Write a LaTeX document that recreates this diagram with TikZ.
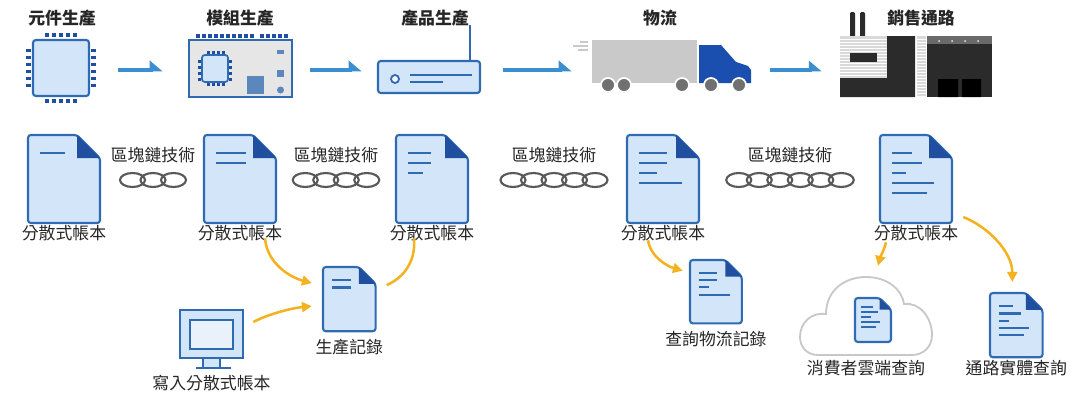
\documentclass[tikz,border=0pt]{standalone}
\usepackage{fontspec}
\usepackage{tikz}
\usetikzlibrary{arrows.meta,calc,positioning}
\newfontfamily\cjk{Noto Sans CJK TC}

\definecolor{docblue}{HTML}{2F6BB3}
\definecolor{docfill}{HTML}{D3E5F8}
\definecolor{docfold}{HTML}{1F4F9E}
\definecolor{flowblue}{HTML}{3B8FD0}
\definecolor{gold}{HTML}{F4B120}
\definecolor{linkgrey}{HTML}{595959}
\definecolor{ink}{HTML}{262626}
\definecolor{boardgrey}{HTML}{E6E6E6}
\definecolor{padblue}{HTML}{5B87BD}
\definecolor{truckgrey}{HTML}{C9C9C9}
\definecolor{truckblue}{HTML}{1A4FB0}
\definecolor{wheelgrey}{HTML}{707070}
\definecolor{darkwall}{HTML}{2B2B2B}
\definecolor{lightwall}{HTML}{D9D9D9}
\definecolor{roofgrey}{HTML}{6A6A6A}
\definecolor{cloudgrey}{HTML}{C8C8C8}

\tikzset{
  stage/.style={font=\cjk\bfseries\fontsize{12}{14}\selectfont, text=ink, inner sep=1pt},
  tag/.style={font=\cjk\fontsize{12}{14}\selectfont, text=ink, inner sep=1pt},
  spot/.style 2 args={minimum width=#1*0.025cm, minimum height=#2*0.025cm, inner sep=0pt},
  docspot/.style={spot={72}{88}},
  docbody/.style={fill=docfill, draw=docblue, line width=1.5pt, rounded corners=2pt},
  docline/.style={draw=docblue, line width=1.5pt},
  pin/.style={fill=docfold},
  link/.style={draw=linkgrey, line width=1.5pt},
  flow/.style={draw=flowblue, line width=2.4pt, -{Triangle[harpoon,length=8pt,width=13pt]}},
  feedline/.style={draw=gold, line width=1.8pt},
  feed/.style={feedline, -{Triangle[length=7pt,width=7pt]}},
}

% ledger icon: name, top-left corner, scale, lengths of the text lines
\newcommand{\ledger}[4]{%
  \begin{scope}[shift={(#2)}, scale=#3]
    \draw[docbody] (0,0) -- (49,0) -- (72,23) -- (72,88) -- (0,88) -- cycle;
    \fill[docfold] (49,0) -- (72,23) -- (49,23) -- cycle;
    \foreach \len [count=\i] in {#4}
      \draw[docline] (12,8+10*\i) -- ++(\len,0);
    \node[docspot, transform shape] (#1) at (36,44) {};
  \end{scope}}

% row of chain links under a label
\newcommand{\linkrow}[2]{%
  \foreach \i in {1,...,#2}
    \draw[link] ($(#1)+({(\i-(#2+1)/2)*20.5},25)$) ellipse [x radius=12.5, y radius=7];}

\begin{document}
\begin{tikzpicture}[x=0.025cm, y=-0.025cm]
  \useasboundingbox[fill=white] (0,0) rectangle (1076,395);

  % top row: from parts to shop
  \node[stage] (partTxt) at (62,18) {元件生產};
  \node[stage] (boardTxt) at (240,18) {模組生產};
  \node[stage] (goodsTxt) at (435,18) {產品生產};
  \node[stage] (truckTxt) at (660,18) {物流};
  \node[stage] (shopTxt) at (921,18) {銷售通路};

  \node[spot={70}{70}] (chip) at (61,70) {};
  \node[spot={106}{70}] (board) at (240,70) {};
  \node[spot={102}{70}] (router) at (429,70) {};
  \node[spot={160}{70}] (truck) at (672,70) {};
  \node[spot={152}{70}] (store) at (916,70) {};

  % chip
  \foreach \k in {-2,...,2} {
    \fill[pin] (61+7*\k-1.75,33) rectangle ++(3.5,4);
    \fill[pin] (61+7*\k-1.75,99) rectangle ++(3.5,4);
  }
  \foreach \k in {-2.5,-1.5,...,2.5} {
    \fill[pin] (26,68+7*\k-1.5) rectangle ++(5,3);
    \fill[pin] (91,68+7*\k-1.5) rectangle ++(5,3);
  }
  \draw[docbody] (33,40) rectangle (89,96);

  % module board
  \draw[draw=docblue, fill=boardgrey, line width=1.2pt] (189,40) rectangle (292,97);
  \foreach \x in {196,202,...,250} \fill[pin] (\x,34) rectangle ++(3.5,4);
  \foreach \x in {260,266,...,284} \fill[pin] (\x,34) rectangle ++(3.5,4);
  \foreach \k in {0,...,3} {
    \fill[pin] (207+5*\k,51) rectangle ++(2.5,3);
    \fill[pin] (207+5*\k,83) rectangle ++(2.5,3);
    \fill[pin] (198,60+6*\k) rectangle ++(3,2.5);
    \fill[pin] (229,60+6*\k) rectangle ++(3,2.5);
  }
  \draw[docbody, line width=1.2pt] (202,55) rectangle (228,82);
  \fill[padblue] (247,76) rectangle (264,94);
  \fill[padblue] (277,50) rectangle (284,54);
  \fill[padblue] (277,70) rectangle (284,77);
  \fill[padblue] (280.5,90) circle [radius=3.5];

  % router
  \draw[docblue, line width=1.5pt] (470,61) -- (470,25);
  \draw[docbody] (378,61) rectangle (480,93);
  \draw[docblue, fill=white, line width=1.3pt] (395,79) circle [radius=4];
  \draw[docline] (410,75) -- (472,75);
  \draw[docline] (410,82) -- (443,82);

  % truck
  \draw[truckgrey, line width=1pt] (580,42) -- (588,42) (573,46) -- (588,46) (578,50) -- (588,50);
  \fill[truckgrey] (592,40) rectangle (697,83);
  \fill[truckblue] (699,45) -- (721,45) -- (736,62) -- (748,66) -- (751,70) -- (751,83) -- (699,83) -- cycle;
  \foreach \x in {608,624,682,711,739}
    \draw[white, fill=wheelgrey, line width=1.2pt] (\x,85) circle [radius=7];

  % shop front
  \fill[darkwall, rounded corners=1pt] (850,12) rectangle (855,38) (860,12) rectangle (865,38);
  \fill[lightwall] (840,36) rectangle (887,78);
  \fill[lightwall] (917,36) rectangle (926,97);
  \foreach \y in {39,42,...,96} \draw[white, line width=0.4pt] (917,\y) -- (926,\y);
  \foreach \y in {39,42,...,76} \draw[white, line width=0.4pt] (840,\y) -- (887,\y);
  \fill[darkwall] (887,36) -- (915,36) -- (915,97) -- (840,97) -- (840,78) -- (887,78) -- cycle;
  \fill[darkwall] (850,53) rectangle (877,62);
  \fill[darkwall] (927,36) rectangle (992,97);
  \fill[roofgrey] (927,36) rectangle (992,44);
  \foreach \x in {939,952,965,978} \fill[white!80!gray] (\x,41) circle [radius=1];
  \fill[black] (938,79) rectangle (958,97) (962,79) rectangle (981,97);

  \draw[flow] ($(chip.east)+(22,0)$) -- ($(board.west)+(-24,0)$);
  \draw[flow] ($(board.east)+(17,0)$) -- ($(router.west)+(-16,0)$);
  \draw[flow] ($(router.east)+(23,0)$) -- ($(truck.west)+(-20,0)$);
  \draw[flow] ($(truck.east)+(18,0)$) -- ($(store.west)+(-18,0)$);

  % ledgers and chains
  \ledger{ledgerA}{28,135}{1}{25}
  \ledger{ledgerB}{204,135}{1}{30,30}
  \ledger{ledgerC}{396,135}{1}{23,23,15}
  \ledger{ledgerD}{627,135}{1}{28,28,18,43}
  \ledger{ledgerE}{880,135}{1}{20,30,14,42,35}

  \node[tag, below=0pt of ledgerA] (bookA) {分散式帳本};
  \node[tag, below=0pt of ledgerB] (bookB) {分散式帳本};
  \node[tag, below=0pt of ledgerC] (bookC) {分散式帳本};
  \node[tag, below=0pt of ledgerD] (bookD) {分散式帳本};
  \node[tag, below=0pt of ledgerE] (bookE) {分散式帳本};

  \node[tag] (chainA) at (153,155) {區塊鏈技術};
  \node[tag] (chainB) at (336,155) {區塊鏈技術};
  \node[tag] (chainC) at (554,155) {區塊鏈技術};
  \node[tag] (chainD) at (790,155) {區塊鏈技術};
  \linkrow{chainA}{3}
  \linkrow{chainB}{4}
  \linkrow{chainC}{5}
  \linkrow{chainD}{6}

  % records and queries
  \ledger{record}{323,267}{0.73}{27,27}
  \node[tag, below=4pt of record] (recordTxt) {生產記錄};

  \node[spot={63}{58}] (screen) at (211.5,339) {};
  \draw[docblue, fill=docfill, line width=1.4pt] (203,358) rectangle (220,368);
  \draw[docblue, line width=1.6pt] (196,368) -- (231,368);
  \draw[docblue, fill=docfill, line width=1.4pt] (180,310) rectangle (243,358);
  \draw[docblue, fill=docfill!50, line width=1.4pt] (190,320) rectangle (233,349);
  \node[tag, below=4pt of screen] (screenTxt) {寫入分散式帳本};

  \ledger{query}{690,260}{0.72}{25,25,15,44}
  \node[tag, below=4pt of query] (queryTxt) {查詢物流記錄};

  \node[spot={132}{78}] (cloud) at (866,316) {};
  \draw[cloudgrey, fill=white, line width=1.3pt] (818,355)
    .. controls (806,355) and (800,346) .. (800,337)
    .. controls (800,322) and (812,312) .. (826,314)
    .. controls (826,290) and (845,277) .. (866,277)
    .. controls (888,277) and (902,290) .. (904,304)
    .. controls (920,302) and (932,318) .. (932,335)
    .. controls (932,348) and (922,355) .. (912,355) -- cycle;
  \ledger{cloudDoc}{855,298}{0.5}{23,33,20,37,30}
  \node[tag, below=2pt of cloud] (cloudTxt) {消費者雲端查詢};

  \ledger{shop}{990,293}{0.73}{20,30,14,42,35}
  \node[tag, below=1pt of shop] (shopQuery) {通路實體查詢};

  \draw[feed] ($(bookB.south)+(25,-4)$) .. controls +(2,25) and +(-22,-6) .. ($(record.west)+(-11,-16)$);
  \draw[feed] ($(screen.east)+(10,-17)$) .. controls +(15,-8) and +(-20,2) .. ($(record.west)+(-11,7)$);
  \draw[feedline] ($(record.east)+(11,-14)$) .. controls +(18,-8) and +(2,22) .. ($(bookC.south)+(-18,-4)$);
  \draw[feed] ($(bookD.south)+(-15,-2)$) .. controls +(3,18) and +(-14,-4) .. ($(query.west)+(-7,-21)$);
  \draw[feed] ($(bookE.south)+(-30,0)$) .. controls +(-2,8) and +(2,-8) .. ($(cloud.north)+(12,-11)$);
  \draw[feed] ($(ledgerE.east)+(11,38)$) .. controls +(25,10) and +(0,-30) .. ($(shop.north)+(-4,-11)$);
\end{tikzpicture}
\end{document}
